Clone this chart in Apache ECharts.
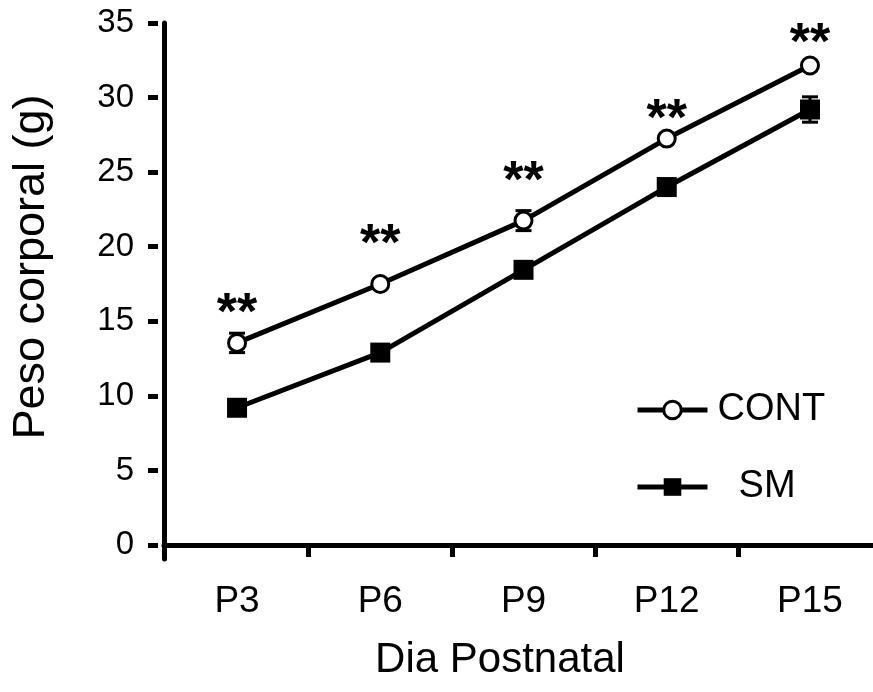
<!DOCTYPE html>
<html>
<head>
<meta charset="utf-8">
<script src="https://cdn.jsdelivr.net/npm/echarts@6/dist/echarts.min.js"></script>
<style>
  html, body { margin: 0; padding: 0; background: #fff; }
  #chart { width: 873px; height: 692px; }
</style>
</head>
<body>
<div id="chart"></div>
<script>
// dias postnatales
var days = [3, 6, 9, 12, 15];
var dayLabels = ['P3', 'P6', 'P9', 'P12', 'P15'];
var xTickPos = [4.5, 7.5, 10.5, 13.5];
var yTicks = [0, 5, 10, 15, 20, 25, 30, 35];

// peso corporal (g), media y error
var contMean = [13.55, 17.5, 21.75, 27.25, 32.15];
var contErr = [0.65, 0.3, 0.67, 0.3, 0.3];
var smMean = [9.2, 12.9, 18.45, 24.0, 29.2];
var smErr = [0.4, 0.4, 0.4, 0.4, 0.85];

// altura de los asteriscos de significancia
var sigY = [16.4, 21.0, 25.2, 29.4, 34.5];

var font = 'Liberation Sans, Arial, Helvetica, sans-serif';

function pts(mean) {
    var out = [];
    for (var i = 0; i < days.length; i++) out.push([days[i], mean[i]]);
    return out;
}
function errPts(mean, err) {
    var out = [];
    for (var i = 0; i < days.length; i++) out.push([days[i], mean[i], err[i]]);
    return out;
}
function renderErr(params, api) {
    var x = api.value(0), m = api.value(1), e = api.value(2);
    var top = api.coord([x, m + e]);
    var bot = api.coord([x, m - e]);
    var hw = 8;
    var st = { stroke: '#000', lineWidth: 3 };
    return {
        type: 'group',
        children: [
            { type: 'line', shape: { x1: top[0], y1: top[1], x2: bot[0], y2: bot[1] }, style: st },
            { type: 'line', shape: { x1: top[0] - hw, y1: top[1], x2: top[0] + hw, y2: top[1] }, style: st },
            { type: 'line', shape: { x1: bot[0] - hw, y1: bot[1], x2: bot[0] + hw, y2: bot[1] }, style: st }
        ]
    };
}

var myChart = echarts.init(document.getElementById('chart'));
var option = {
    backgroundColor: '#fff',
    animation: false,
    grid: {
        left: 164,
        right: 0,
        top: 23,
        bottom: 133,
        outerBoundsMode: 'none'
    },
    legend: {
        orient: 'vertical',
        left: 635,
        top: 391,
        padding: 0,
        itemWidth: 70,
        itemHeight: 22,
        itemGap: 39,
        data: ['CONT', 'SM'],
        lineStyle: { width: 5, color: '#000' },
        itemStyle: { borderWidth: 3 },
        formatter: function (name) {
            return name == 'SM' ? '  SM' : name;
        },
        textStyle: {
            fontFamily: font,
            fontSize: 38,
            color: '#000',
            padding: [0, 0, 0, 5]
        }
    },
    xAxis: {
        type: 'value',
        min: 1.47,
        max: 16.32,
        name: 'Dia Postnatal',
        nameLocation: 'middle',
        nameGap: 80,
        nameTextStyle: {
            fontFamily: font,
            fontSize: 42,
            color: '#000',
            padding: [0, 37, 0, 0]
        },
        axisLine: {
            onZero: true,
            lineStyle: { color: '#000', width: 5 }
        },
        axisTick: {
            show: true,
            length: 12,
            customValues: xTickPos,
            lineStyle: { color: '#000', width: 5 }
        },
        axisLabel: {
            customValues: days,
            margin: 24,
            fontFamily: font,
            fontSize: 37,
            color: '#000',
            formatter: function (v) {
                var i = days.indexOf(v);
                return i >= 0 ? dayLabels[i] : '';
            }
        },
        splitLine: { show: false }
    },
    yAxis: [
        {
            type: 'value',
            min: -0.94,
            max: 35,
            axisLine: { show: true, lineStyle: { color: '#000', width: 5 } },
            axisTick: { show: false },
            axisLabel: { show: false },
            splitLine: { show: false }
        },
        {
            type: 'value',
            position: 'left',
            offset: 6,
            min: -0.94,
            max: 35,
            name: 'Peso corporal (g)',
            nameLocation: 'middle',
            nameGap: 104,
            nameTextStyle: {
                fontFamily: font,
                fontSize: 45,
                color: '#000',
                padding: [0, 0, 0, 48]
            },
            axisLine: { show: false },
            axisTick: {
                show: true,
                length: 10,
                customValues: yTicks,
                lineStyle: { color: '#000', width: 5 }
            },
            axisLabel: {
                customValues: yTicks,
                margin: 24,
                fontFamily: font,
                fontSize: 33,
                color: '#000'
            },
            splitLine: { show: false }
        }
    ],
    series: [
        {
            name: 'CONT-err',
            type: 'custom',
            renderItem: renderErr,
            encode: { x: 0, y: 1 },
            data: errPts(contMean, contErr),
            z: 1
        },
        {
            name: 'SM-err',
            type: 'custom',
            renderItem: renderErr,
            encode: { x: 0, y: 1 },
            data: errPts(smMean, smErr),
            z: 1
        },
        {
            name: 'CONT',
            type: 'line',
            data: pts(contMean),
            symbol: 'circle',
            symbolSize: 17,
            showAllSymbol: true,
            lineStyle: { color: '#000', width: 5 },
            itemStyle: { color: '#fff', borderColor: '#000', borderWidth: 3 },
            z: 3
        },
        {
            name: 'SM',
            type: 'line',
            data: pts(smMean),
            symbol: 'rect',
            symbolSize: 20,
            showAllSymbol: true,
            lineStyle: { color: '#000', width: 5 },
            itemStyle: { color: '#000' },
            z: 3
        },
        {
            name: 'sig',
            type: 'scatter',
            data: pts(sigY),
            symbolSize: 0,
            silent: true,
            itemStyle: { opacity: 1, color: '#000' },
            label: {
                show: true,
                position: 'inside',
                formatter: '**',
                fontFamily: font,
                fontSize: 52,
                fontWeight: 'bold',
                color: '#000',
                textBorderWidth: 0,
                offset: [0, 14]
            },
            z: 4
        }
    ]
};
myChart.setOption(option);
</script>
</body>
</html>
